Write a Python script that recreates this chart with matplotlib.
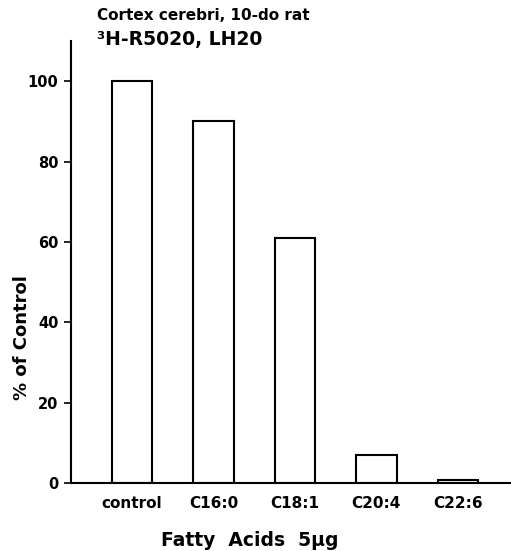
import matplotlib.pyplot as plt

categories = ['control', 'C16:0', 'C18:1', 'C20:4', 'C22:6']
values = [100, 90, 61, 7, 0.8]
yticks = [0, 20, 40, 60, 80, 100]

plt.rcParams['font.family'] = ['DejaVu Sans']

fig = plt.figure(figsize=(5.11, 5.51), dpi=100)
ax = fig.add_axes([71 / 511, 68 / 551, 439 / 511, 442 / 551])

x = range(len(categories))
ax.bar(x, values, width=0.5, color='white', edgecolor='black', linewidth=1.5)

ax.set_xlim(-0.75, 4.64)
ax.set_ylim(0, 110)
ax.set_yticks(yticks)
ax.set_yticklabels([str(t) for t in yticks], fontsize=10.5, fontweight='bold')
ax.set_xticks(list(x))
ax.set_xticklabels(categories, fontsize=11, fontweight='bold')
ax.tick_params(axis='x', length=0, pad=9)
ax.tick_params(axis='y', length=5, width=1.2, direction='out', pad=4)

for s in ['top', 'right']:
    ax.spines[s].set_visible(False)
ax.spines['left'].set_linewidth(1.5)
ax.spines['bottom'].set_linewidth(1.5)

ax.set_ylabel('% of Control', fontsize=13, fontweight='bold')
ax.yaxis.set_label_coords(-49 / 439, (483 - 338) / 442)
ax.set_xlabel('Fatty  Acids  5\u00b5g', fontsize=13.5, fontweight='bold')
ax.xaxis.set_label_coords((250 - 71) / 439, -(540 - 483) / 442)
ax.xaxis.label.set_va('center')
ax.yaxis.label.set_va('center')

fig.text(97 / 511, 1 - 16 / 551, 'Cortex cerebri, 10-do rat', fontsize=11,
         fontweight='bold', va='center', ha='left')
fig.text(97 / 511, 1 - 40 / 551, '\u00b3H-R5020, LH20', fontsize=13.5,
         fontweight='bold', va='center', ha='left')

plt.savefig('out.png', dpi=100)
